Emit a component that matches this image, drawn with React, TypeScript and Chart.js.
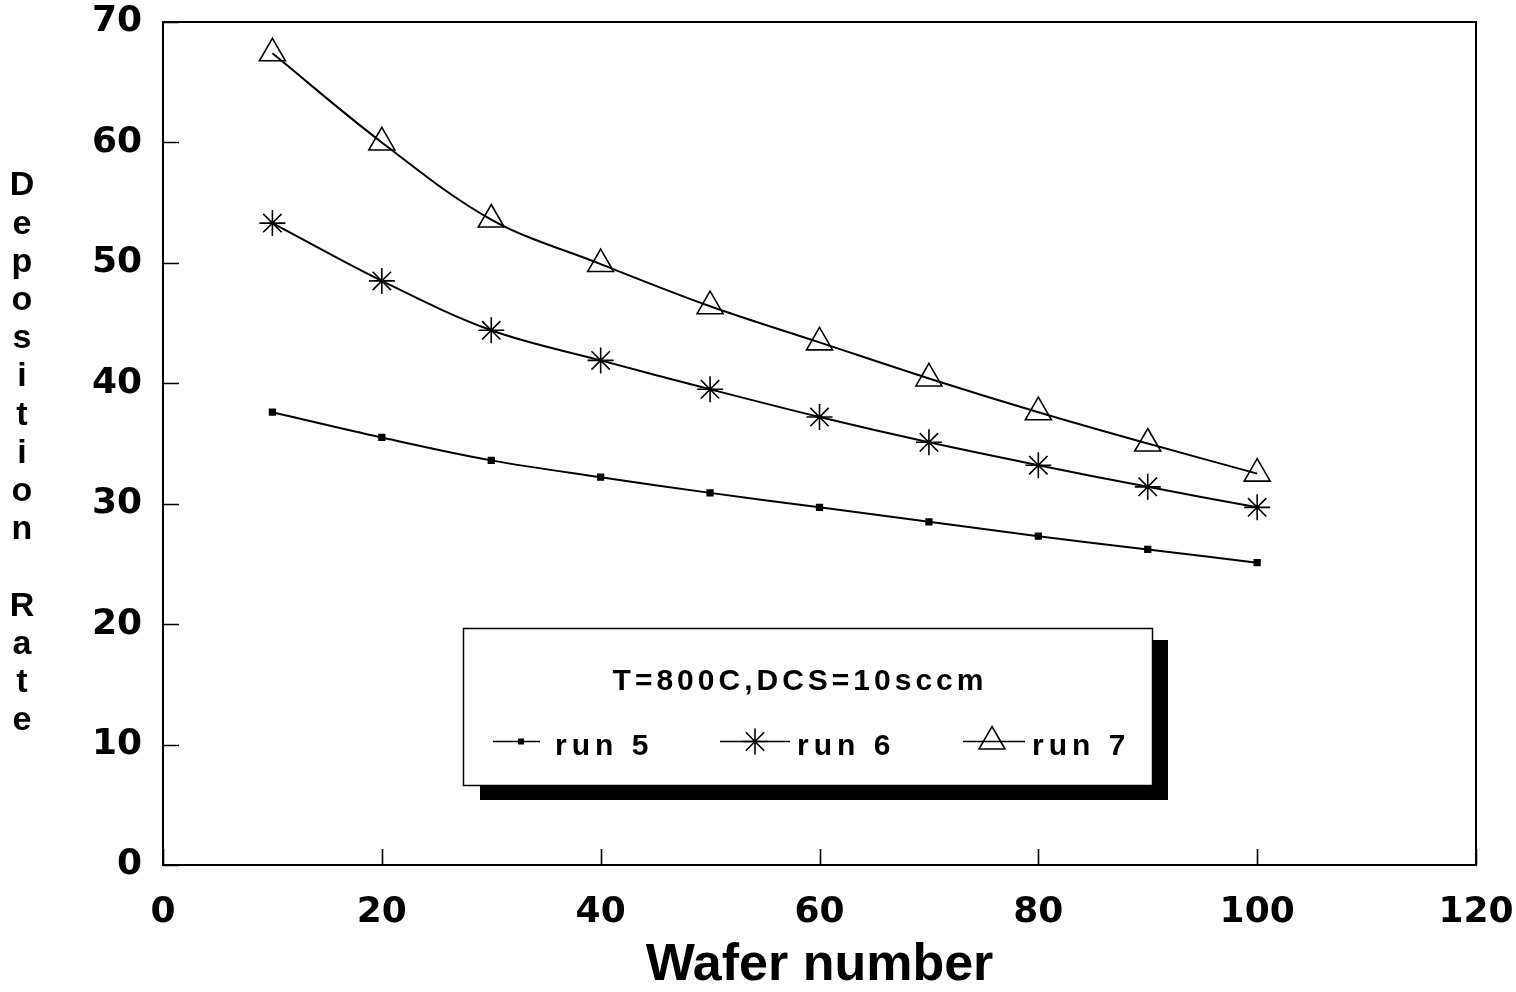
import React, { useEffect, useRef } from 'react';
import { Chart, registerables } from 'chart.js';

Chart.register(...registerables);

// ---- data ----
const waferNumbers = [10, 20, 30, 40, 50, 60, 70, 80, 90, 100];
const run5 = [37.6, 35.5, 33.6, 32.2, 30.9, 29.7, 28.5, 27.3, 26.2, 25.1];
const run6 = [53.3, 48.5, 44.4, 41.9, 39.5, 37.2, 35.1, 33.2, 31.4, 29.7];
const run7 = [67.4, 60.0, 53.6, 49.9, 46.4, 43.4, 40.4, 37.6, 35.0, 32.5];
const seriesLabels = ['run 5', 'run 6', 'run 7'];
const legendTitle = 'T=800C,DCS=10sccm';
const xTickValues = [0, 20, 40, 60, 80, 100, 120];
const yTickValues = [0, 10, 20, 30, 40, 50, 60, 70];
const xAxisTitle = 'Wafer number';
const yAxisTitle = 'Deposition Rate';

const TICK_FONT = "'DejaVu Sans', Arial, sans-serif";
const TEXT_FONT = "'Liberation Sans', Arial, sans-serif";

function drawMarker(ctx: CanvasRenderingContext2D, kind: string, x: number, y: number) {
  ctx.save();
  ctx.strokeStyle = '#000';
  ctx.fillStyle = '#000';
  ctx.lineWidth = 1.6;
  if (kind === 'rect') {
    ctx.fillRect(x - 3, y - 3, 6, 6);
  } else if (kind === 'star') {
    const r = 13;
    const d = r * Math.SQRT1_2;
    ctx.beginPath();
    ctx.moveTo(x - r, y); ctx.lineTo(x + r, y);
    ctx.moveTo(x, y - r); ctx.lineTo(x, y + r);
    ctx.moveTo(x - d, y - d); ctx.lineTo(x + d, y + d);
    ctx.moveTo(x - d, y + d); ctx.lineTo(x + d, y - d);
    ctx.stroke();
  } else if (kind === 'triangle') {
    const r = 15;
    ctx.beginPath();
    ctx.moveTo(x, y - r);
    ctx.lineTo(x + r * Math.sqrt(3) / 2, y + r / 2);
    ctx.lineTo(x - r * Math.sqrt(3) / 2, y + r / 2);
    ctx.closePath();
    ctx.stroke();
  }
  ctx.restore();
}

const decorPlugin = {
  id: 'decor',
  afterDatasetsDraw(chart: any) {
    const ctx: CanvasRenderingContext2D = chart.ctx;
    const { left, right, top, bottom } = chart.chartArea;
    const xs = chart.scales.x;
    const ys = chart.scales.y;
    ctx.save();
    // frame
    ctx.strokeStyle = '#000';
    ctx.lineWidth = 2;
    ctx.strokeRect(left, top, right - left, bottom - top);
    // inward ticks
    ctx.lineWidth = 1.6;
    ctx.beginPath();
    xTickValues.forEach((v) => {
      const px = Math.round(xs.getPixelForValue(v)) + 0.5;
      ctx.moveTo(px, bottom);
      ctx.lineTo(px, bottom - 16);
    });
    yTickValues.forEach((v) => {
      const py = Math.round(ys.getPixelForValue(v)) + 0.5;
      ctx.moveTo(left, py);
      ctx.lineTo(left + 16, py);
    });
    ctx.stroke();

    // legend box with shadow
    ctx.fillStyle = '#000';
    ctx.fillRect(480, 640, 688, 160);
    ctx.fillStyle = '#fff';
    ctx.fillRect(463, 628, 689, 157);
    ctx.strokeStyle = '#000';
    ctx.lineWidth = 1.5;
    ctx.strokeRect(463.5, 628.5, 689, 157);

    ctx.fillStyle = '#000';
    ctx.font = `bold 30px ${TEXT_FONT}`;
    ctx.textBaseline = 'alphabetic';
    ctx.textAlign = 'center';
    (ctx as any).letterSpacing = '4px';
    ctx.fillText(legendTitle, 800, 690);

    const entries = [
      { label: seriesLabels[0], kind: 'rect', x1: 493, x2: 540, mx: 521, tx: 555 },
      { label: seriesLabels[1], kind: 'star', x1: 720, x2: 790, mx: 755, tx: 797 },
      { label: seriesLabels[2], kind: 'triangle', x1: 963, x2: 1025, mx: 992, tx: 1032 },
    ];
    ctx.textAlign = 'left';
    (ctx as any).letterSpacing = '5px';
    entries.forEach((e) => {
      ctx.lineWidth = 1.6;
      ctx.beginPath();
      ctx.moveTo(e.x1, 741.5);
      ctx.lineTo(e.x2, 741.5);
      ctx.stroke();
      drawMarker(ctx, e.kind, e.mx, 741.5);
      ctx.fillText(e.label, e.tx, 755);
    });
    (ctx as any).letterSpacing = '0px';

    // vertical stacked y-axis title
    ctx.font = `bold 34px ${TEXT_FONT}`;
    ctx.textAlign = 'center';
    ctx.textBaseline = 'middle';
    const letters = yAxisTitle.split('');
    letters.forEach((ch, i) => {
      if (ch !== ' ') ctx.fillText(ch, 22, 186 + i * 38.2);
    });
    ctx.restore();
  },
};

export default function App() {
  const canvasRef = useRef<HTMLCanvasElement | null>(null);

  useEffect(() => {
    document.body.style.margin = '0';
    const canvas = canvasRef.current;
    if (!canvas) return;
    const toPoints = (vals: number[]) => waferNumbers.map((w, i) => ({ x: w, y: vals[i] }));
    const common = {
      borderColor: '#000',
      borderWidth: 2,
      tension: 0.35,
      fill: false,
      pointBorderColor: '#000',
      pointBorderWidth: 1.6,
    };
    const chart = new Chart(canvas, {
      type: 'line',
      data: {
        datasets: [
          {
            ...common,
            label: seriesLabels[0],
            data: toPoints(run5),
            pointStyle: 'rect',
            pointRadius: 4,
            pointBackgroundColor: '#000',
          },
          {
            ...common,
            label: seriesLabels[1],
            data: toPoints(run6),
            pointStyle: 'star',
            pointRadius: 13,
            pointBackgroundColor: 'rgba(0,0,0,0)',
          },
          {
            ...common,
            label: seriesLabels[2],
            data: toPoints(run7),
            pointStyle: 'triangle',
            pointRadius: 15,
            pointBackgroundColor: 'rgba(0,0,0,0)',
          },
        ],
      },
      options: {
        responsive: false,
        animation: false,
        devicePixelRatio: 1,
        layout: { padding: { top: 22, right: 40, left: 0, bottom: 0 } },
        plugins: {
          legend: { display: false },
          tooltip: { enabled: false },
          title: { display: false },
        },
        scales: {
          x: {
            type: 'linear',
            min: 0,
            max: 120,
            afterBuildTicks: (scale: any) => {
              scale.ticks = xTickValues.map((v) => ({ value: v }));
            },
            grid: { display: false, drawTicks: false },
            border: { display: true, color: '#000', width: 2 },
            ticks: {
              color: '#000',
              font: { family: TICK_FONT, size: 36, weight: 'bold' },
              padding: 26,
              maxRotation: 0,
              autoSkip: false,
            },
            title: {
              display: true,
              text: xAxisTitle,
              color: '#000',
              font: { family: TEXT_FONT, size: 52, weight: 'bold', lineHeight: 1.0 },
              padding: { top: 0, bottom: 0 },
            },
            afterFit: (scale: any) => {
              scale.height = 127;
              scale.paddingLeft = 0;
              scale.paddingRight = 0;
              scale.paddingTop = 0;
              scale.paddingBottom = 0;
            },
          },
          y: {
            type: 'linear',
            min: 0,
            max: 70,
            afterBuildTicks: (scale: any) => {
              scale.ticks = yTickValues.map((v) => ({ value: v }));
            },
            grid: { display: false, drawTicks: false },
            border: { display: true, color: '#000', width: 2 },
            ticks: {
              color: '#000',
              font: { family: TICK_FONT, size: 36, weight: 'bold' },
              padding: 21,
              autoSkip: false,
            },
            afterFit: (scale: any) => {
              scale.width = 163;
              scale.paddingLeft = 0;
              scale.paddingRight = 0;
              scale.paddingTop = 0;
              scale.paddingBottom = 0;
            },
          },
        },
      },
      plugins: [decorPlugin],
    });
    return () => chart.destroy();
  }, []);

  return (
    <div style={{ position: 'absolute', left: 0, top: 0, width: 1516, height: 992, background: '#fff' }}>
      <canvas ref={canvasRef} width={1516} height={992} style={{ display: 'block' }} />
    </div>
  );
}
